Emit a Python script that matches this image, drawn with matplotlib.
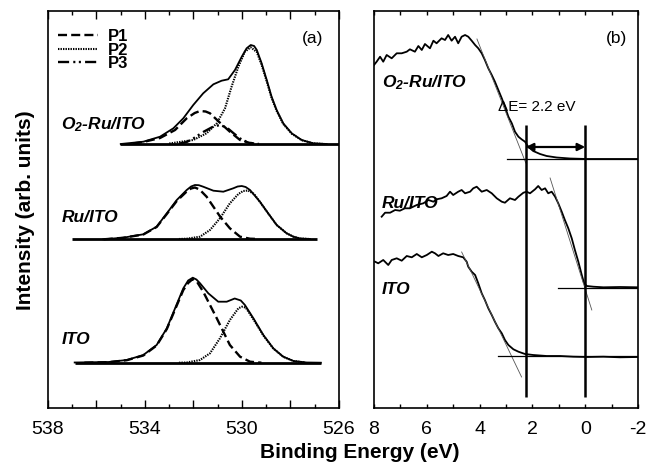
import matplotlib
matplotlib.use('Agg')
import matplotlib.pyplot as plt
from matplotlib.ticker import MultipleLocator, FuncFormatter

plt.rcParams['font.family'] = ['Liberation Sans', 'DejaVu Sans']
plt.rcParams['axes.unicode_minus'] = False
plt.rcParams['mathtext.fontset'] = 'custom'
plt.rcParams['mathtext.rm'] = 'Liberation Sans:italic:bold'
plt.rcParams['mathtext.it'] = 'Liberation Sans:italic:bold'
plt.rcParams['lines.scale_dashes'] = False

# ---------------- panel (a): O 1s core level (binding energy, eV) ----------------
ito_base_x = [536.9, 526.75]
ito_base_y = [45.3, 45.3]
ito_tot_x = [536.9, 535.5, 534.75, 534.07, 533.52, 533.1, 532.76, 532.42, 532.22, 532.03, 531.88,
             531.73, 531.39, 530.98, 530.63, 530.3, 530.05, 529.88, 529.53, 529.12, 528.71, 528.3,
             527.88, 527.33, 526.75]
ito_tot_y = [45.5, 46, 48, 53, 63, 79.7, 99.7, 119.7, 127.5, 130.3, 128.5,
             124.7, 114.7, 106.3, 106.3, 109.5, 107.5, 103, 89.7, 73, 59.7, 51.3,
             47, 45.5, 45.3]
ito_p1_x = [536.5, 535.5, 534.75, 534.07, 533.52, 533.1, 532.76, 532.42, 532.22, 532.03, 531.85,
            531.6, 531.32, 531.04, 530.77, 530.5, 530.08, 529.67, 529.2]
ito_p1_y = [45.3, 45.8, 47.8, 52.5, 62.5, 79, 98.5, 118, 125, 129, 126,
            116.3, 103, 89.7, 76.3, 63, 51.3, 46.3, 45.3]
ito_p2_x = [532.6, 532.28, 531.73, 531.32, 530.91, 530.5, 530.15, 530.0, 529.85, 529.53, 529.12,
            528.71, 528.3, 527.88, 527.4]
ito_p2_y = [45.3, 45.5, 48, 54.7, 69.7, 88, 99.7, 101.3, 100.5, 88.7, 72.5,
            59.5, 51.2, 47, 45.5]

ru_base_x = [537.0, 526.9]
ru_base_y = [169, 169]
ru_tot_x = [535.72, 534.9, 534.07, 533.52, 533.1, 532.69, 532.28, 532.1, 531.94, 531.78, 531.6,
            531.18, 530.77, 530.36, 530.18, 530.01, 529.85, 529.67, 529.26, 528.92, 528.57,
            528.16, 527.88, 527.6, 527.2]
ru_tot_y = [168.7, 170.3, 173.7, 181.3, 194.7, 208, 218, 221.5, 223, 222.8, 221.3,
            217.3, 216.3, 219.7, 221.5, 222, 221, 218, 206.3, 194.7, 183,
            174.7, 171.3, 169.5, 169]
ru_p1_x = [535.7, 534.9, 534.07, 533.52, 533.1, 532.69, 532.28, 532.1, 531.94, 531.75, 531.46,
           531.18, 530.9, 530.5, 530.08, 529.67, 529.3]
ru_p1_y = [168.7, 170.2, 173.5, 181, 194, 207, 216.5, 219.5, 220.5, 218.5, 211.3,
           201.3, 191.3, 179.7, 171.3, 169.3, 169]
ru_p2_x = [532.6, 532.28, 531.73, 531.32, 530.91, 530.5, 530.15, 529.95, 529.75, 529.5, 529.26,
           528.92, 528.57, 528.16, 527.88, 527.6, 527.2]
ru_p2_y = [169, 169.3, 171.3, 178, 189.7, 204.7, 214, 217, 217.5, 214, 206,
           194.5, 183, 174.7, 171.3, 169.5, 169]

o2_base_x = [535.03, 526.0]
o2_base_y = [264, 264]
o2_tot_x = [535.0, 534.07, 533.38, 532.83, 532.42, 532.01, 531.6, 531.18, 530.84, 530.57, 530.29,
            530.01, 529.81, 529.64, 529.5, 529.39, 529.19, 528.98, 528.78, 528.57, 528.3,
            527.95, 527.54, 527.06, 526.51]
o2_tot_y = [264, 266.3, 271.3, 279.7, 289.7, 303, 314.7, 323.7, 327.3, 328.7, 338,
            351.3, 359.7, 363, 362, 358, 344.7, 328, 311.3, 298, 284.7,
            274.7, 268, 264.7, 264]
o2_p1_x = [534.5, 534.07, 533.38, 532.76, 532.28, 531.95, 531.73, 531.5, 531.32, 530.91, 530.5,
           530.08, 529.67, 529.3]
o2_p1_y = [264.5, 266, 270, 278, 289.7, 295, 297, 296.5, 294.7, 285.3, 276.3,
           268, 265, 264]
o2_p2_x = [533.0, 532.01, 531.46, 531.04, 530.7, 530.43, 530.15, 529.88, 529.64, 529.39, 529.19,
           528.98, 528.78, 528.57, 528.3, 527.95, 527.54, 527.06, 526.6]
o2_p2_y = [264.5, 268, 274.7, 284.7, 299.7, 321.3, 341.3, 356.3, 360.7, 356, 343,
           326.5, 310, 297, 284, 274.3, 267.8, 264.6, 264]
o2_p3_x = [532.6, 532.28, 532.01, 531.6, 531.18, 530.91, 530.63, 530.36, 530.08, 529.8, 529.5]
o2_p3_y = [264.3, 266, 269.5, 276, 281.5, 283, 280.5, 275, 269.5, 266, 264.3]

# ---------------- panel (b): valence band (binding energy, eV) ----------------
o2v_x = [8.0, 7.90, 7.77, 7.65, 7.52, 7.33, 7.14, 6.95, 6.76, 6.64, 6.45, 6.32, 6.19, 6.07, 5.88,
         5.75, 5.63, 5.44, 5.31, 5.19, 5.06, 4.93, 4.81, 4.68, 4.55, 4.43, 4.30, 4.17, 4.05, 3.92,
         3.80, 3.67, 3.54, 3.42, 3.29, 3.16, 3.04, 2.91, 2.78, 2.66, 2.53, 2.41, 2.28, 2.16, 1.97,
         1.71, 1.46, 1.08, 0.58, -0.06, -0.69, -1.32, -2.0]
o2v_y = [343, 346.3, 351.3, 346.3, 353, 349.7, 354.7, 354.7, 356.3, 358.7, 356.3, 362, 358, 364, 359.7,
         367.3, 364.7, 369.7, 368, 373, 367.3, 371.3, 364.7, 371.3, 373, 371.3, 367.3, 363, 359.7, 354.7,
         348, 339.7, 333, 326.3, 318, 309.7, 301.3, 291.3, 284.7, 276.3, 271.3, 268.7, 266.3, 261.3, 257,
         254, 252, 250.5, 249.5, 249, 249, 249, 249]
ruv_x = [7.71, 7.58, 7.39, 7.20, 7.02, 6.83, 6.64, 6.38, 6.13, 5.94, 5.75, 5.63, 5.44, 5.25, 5.12,
         5.0, 4.81, 4.68, 4.55, 4.36, 4.24, 4.11, 3.92, 3.73, 3.54, 3.35, 3.16, 3.04, 2.85, 2.66,
         2.53, 2.34, 2.22, 2.09, 1.90, 1.78, 1.65, 1.52, 1.40, 1.27, 1.14, 1.02, 0.89, 0.77, 0.64,
         0.51, 0.39, 0.26, 0.13, 0.04, -0.06, -0.31, -0.69, -1.32, -2.0]
ruv_y = [191.3, 195.3, 195.3, 198, 197.3, 199.7, 199.7, 203, 204.7, 208, 206.3, 208.7, 209.7, 212, 216.3,
         213, 216.3, 218, 214.7, 216.3, 219.7, 221.3, 216.3, 218, 214.7, 209.7, 206.3, 205.3, 209.7, 208,
         211.3, 215.3, 216.3, 214.7, 218.7, 222, 218, 219.7, 214.7, 216.3, 211.3, 204.7, 196.3, 188, 179.7,
         169.7, 158, 146.3, 133, 124.7, 122, 121.3, 120.7, 121, 120.7]
itov_x = [7.96, 7.84, 7.65, 7.46, 7.33, 7.14, 6.95, 6.76, 6.57, 6.38, 6.19, 6.0, 5.81, 5.69, 5.56,
          5.38, 5.19, 5.0, 4.81, 4.62, 4.49, 4.43, 4.30, 4.17, 4.05, 3.92, 3.80, 3.67, 3.54, 3.42,
          3.29, 3.16, 3.04, 2.91, 2.72, 2.53, 2.28, 1.97, 1.46, 0.95, 0.45, -0.06, -0.69, -1.32, -2.0]
itov_y = [146.3, 144.7, 148, 143, 148, 149.7, 147.3, 152, 150.7, 154, 150.7, 153, 156.3, 154.7, 152,
          154.7, 153, 154, 152, 150.7, 146.3, 141.3, 136.3, 133, 124.7, 114.7, 108, 99.7, 93, 86.3,
          79.7, 74.7, 68, 63, 58.7, 56.3, 54, 53, 52, 52, 51.3, 51, 51.3, 50.7, 51]

# linear extrapolations (edges) and baselines
o2_tan_x, o2_tan_y = [4.1, 2.25], [369, 245]
ru_tan_x, ru_tan_y = [1.33, -0.25], [230, 98]
ito_tan_x, ito_tan_y = [4.68, 2.41], [156, 31]
o2_hl_x, o2_hl_y = [2.96, -2.0], [248.5, 248.5]
ru_hl_x, ru_hl_y = [1.02, -2.0], [120.5, 120.5]
ito_hl_x, ito_hl_y = [3.3, -2.0], [52, 52]
edge_x = [2.25, 0.0]
edge_ymin, edge_ymax = 11, 283
arrow_y = 261

# ---------------- figure ----------------
fig = plt.figure(figsize=(6.65, 4.69), dpi=100)
axa = fig.add_axes([48/665, 61/469, 291/665, 397/469])
axb = fig.add_axes([374/665, 61/469, 264/665, 397/469])

P1_DASH = (0, (6.5, 3.0))
P2_DASH = (0, (1.0, 0.8))
P3_DASH = (0, (8.0, 3.0, 1.5, 2.5, 1.5, 3.0))

for bx, by in [(ito_base_x, ito_base_y), (ru_base_x, ru_base_y), (o2_base_x, o2_base_y)]:
    axa.plot(bx, by, color='black', lw=2.0, solid_capstyle='butt')
for tx, ty in [(ito_tot_x, ito_tot_y), (ru_tot_x, ru_tot_y), (o2_tot_x, o2_tot_y)]:
    axa.plot(tx, ty, color='black', lw=1.3)
l1, = axa.plot(ito_p1_x, ito_p1_y, color='black', lw=1.7, linestyle=P1_DASH)
axa.plot(ru_p1_x, ru_p1_y, color='black', lw=1.7, linestyle=P1_DASH)
axa.plot(o2_p1_x, o2_p1_y, color='black', lw=1.7, linestyle=P1_DASH)
l2, = axa.plot(ito_p2_x, ito_p2_y, color='black', lw=1.5, linestyle=P2_DASH)
axa.plot(ru_p2_x, ru_p2_y, color='black', lw=1.5, linestyle=P2_DASH)
axa.plot(o2_p2_x, o2_p2_y, color='black', lw=1.5, linestyle=P2_DASH)
l3, = axa.plot(o2_p3_x, o2_p3_y, color='black', lw=1.7, linestyle=P3_DASH)

leg = axa.legend([l1, l2, l3], ['P1', 'P2', 'P3'], loc='upper left', bbox_to_anchor=(0.035, 0.955),
                 frameon=False, borderpad=0, borderaxespad=0, labelspacing=-0.08,
                 handlelength=2.4, handletextpad=0.6, prop=dict(weight='bold', size=12))

lab = dict(fontsize=12.5, fontweight='bold', style='italic', va='center', ha='left')
axa.text(537.46, 283, r'$O_2$-Ru/ITO', **lab)
axa.text(537.42, 191, 'Ru/ITO', **lab)
axa.text(537.42, 69, 'ITO', **lab)
axa.text(527.11, 370, '(a)', fontsize=12.5, ha='center', va='center')

axa.set_xlim(538, 526)
axa.set_ylim(0, 397)
axa.xaxis.set_major_locator(MultipleLocator(2))
axa.xaxis.set_minor_locator(MultipleLocator(1))
axa.xaxis.set_major_formatter(FuncFormatter(lambda v, p: '%d' % round(v) if round(538 - v) % 4 == 0 else ''))

# panel (b)
axb.plot(o2v_x, o2v_y, color='black', lw=1.3)
axb.plot(ruv_x, ruv_y, color='black', lw=1.3)
axb.plot(itov_x, itov_y, color='black', lw=1.3)
for tx, ty in [(o2_tan_x, o2_tan_y), (ru_tan_x, ru_tan_y), (ito_tan_x, ito_tan_y)]:
    axb.plot(tx, ty, color='#555555', lw=0.6)
for hx, hy in [(o2_hl_x, o2_hl_y), (ru_hl_x, ru_hl_y), (ito_hl_x, ito_hl_y)]:
    axb.plot(hx, hy, color='black', lw=0.9)
axb.vlines(edge_x, edge_ymin, edge_ymax, color='black', lw=1.8)
axb.annotate('', xy=(edge_x[1], arrow_y), xytext=(edge_x[0], arrow_y),
             arrowprops=dict(arrowstyle='<|-|>', color='black', lw=1.6, mutation_scale=11,
                             shrinkA=0, shrinkB=0))
axb.text(1.83, 301, 'ΔE= 2.2 eV', fontsize=11, ha='center', va='center')
axb.text(7.70, 325, r'$O_2$-Ru/ITO', **lab)
axb.text(7.70, 204, 'Ru/ITO', **lab)
axb.text(7.70, 118, 'ITO', **lab)
axb.text(-1.17, 370, '(b)', fontsize=12.5, ha='center', va='center')

axb.set_xlim(8, -2)
axb.set_ylim(0, 397)
axb.xaxis.set_major_locator(MultipleLocator(2))
axb.xaxis.set_minor_locator(MultipleLocator(1))
axb.xaxis.set_major_formatter(FuncFormatter(lambda v, p: '%d' % round(v)))

for ax in (axa, axb):
    ax.set_yticks([])
    for s in ax.spines.values():
        s.set_linewidth(1.2)
    ax.tick_params(axis='x', which='both', direction='in', top=True, bottom=True,
                   labelsize=14, pad=9, width=1.0)
    ax.tick_params(axis='x', which='minor', length=3)
axa.tick_params(axis='x', which='major', length=5.5)
axb.tick_params(axis='x', which='major', length=3)

fig.text(360/665, (469-452)/469, 'Binding Energy (eV)', fontsize=15, fontweight='bold',
         ha='center', va='center')
fig.text(26/665, (469-210)/469, 'Intensity (arb. units)', fontsize=15, fontweight='bold',
         ha='center', va='center', rotation=90)

fig.savefig('out.png', dpi=100)
